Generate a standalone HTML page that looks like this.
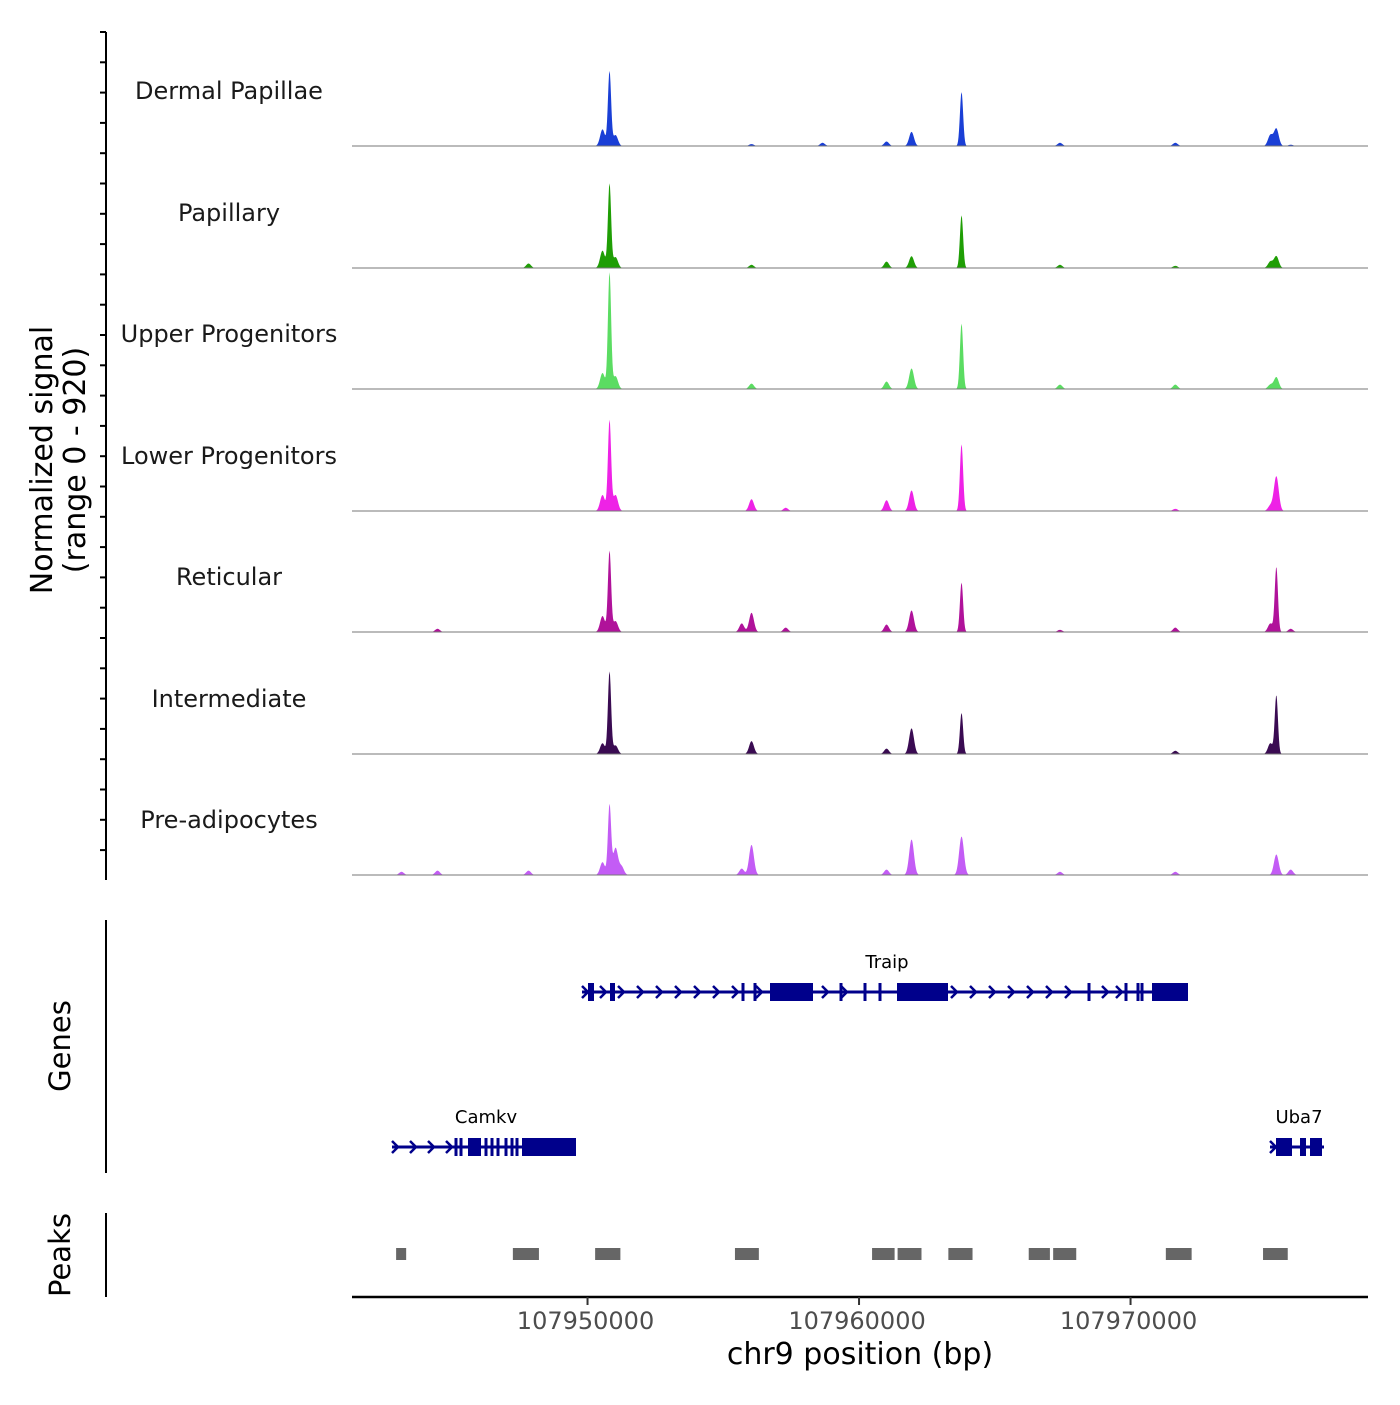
<!DOCTYPE html>
<html><head><meta charset="utf-8"><style>
body{margin:0;background:#fff;}
svg text{font-family:"DejaVu Sans","Liberation Sans",sans-serif;}
</style></head><body>
<svg id="chart" width="1400" height="1400" xmlns="http://www.w3.org/2000/svg">
<rect width="1400" height="1400" fill="#fff"/>
<g id="tracks"></g>
<g id="genes"></g>
<g id="peaks"></g>
<g id="axes"></g>
<text transform="translate(52,460) rotate(-90)" font-size="30" text-anchor="middle" fill="#000">Normalized signal</text>
<text transform="translate(85,460) rotate(-90)" font-size="30" text-anchor="middle" fill="#000">(range 0 - 920)</text>
<text transform="translate(70,1046) rotate(-90)" font-size="29" text-anchor="middle" fill="#000">Genes</text>
<text transform="translate(70,1255) rotate(-90)" font-size="29" text-anchor="middle" fill="#000">Peaks</text>
<text x="860" y="1364" font-size="30" text-anchor="middle" fill="#000">chr9 position (bp)</text>
</svg>
<script>
const trackNames=["Dermal Papillae","Papillary","Upper Progenitors","Lower Progenitors","Reticular","Intermediate","Pre-adipocytes"];
const trackColors=["#1a3fd6","#1f9e05","#5bdc62","#ee22e6","#b0129a","#3a0b52","#c35cf5"];
const peakPos=[107943149,107944475,107947827,107950552,107950810,107951031,107951250,107955680,107956040,107957300,107958656,107961013,107961934,107963775,107967400,107971650,107975150,107975370,107975900];
const dermalVals=[1,0,0,130,580,85,0,0,15,0,25,35,110,420,25,25,85,135,10];
const papillaryVals=[0,0,35,135,655,85,0,0,25,0,0,50,92,410,25,17,50,92,0];
const upperVals=[0,0,0,125,905,100,0,0,42,0,0,58,160,510,34,34,34,92,0];
const lowerVals=[0,0,0,125,705,125,0,0,92,25,0,84,160,520,0,17,42,270,0];
const reticularVals=[0,25,0,125,630,85,0,67,150,34,0,58,168,385,17,34,67,505,25];
const intermediateVals=[0,0,0,84,640,67,0,0,100,0,0,42,200,320,0,25,84,455,0];
const preadipoVals=[25,34,34,100,545,210,67,50,235,0,0,42,277,300,25,25,0,160,42];
const trackVals=[dermalVals,papillaryVals,upperVals,lowerVals,reticularVals,intermediateVals,preadipoVals];
const xTicks=[107950000,107960000,107970000];
const peakStarts=[107942950,107947250,107950280,107955430,107960480,107961420,107963290,107966250,107967150,107971300,107974880];
const peakEnds=[107943320,107948210,107951210,107956310,107961310,107962300,107964180,107967030,107968000,107972250,107975790];
const SVGNS="http://www.w3.org/2000/svg";
const X0=352,X1=1368,BP0=107941325,BP1=107978746;
const xs=bp=>X0+(bp-BP0)/(BP1-BP0)*(X1-X0);
const baselines=[146,268,389,511,632,754,875];
const ys=(v,b)=>b-v/920*118;
function mk(tag,attrs,parent){const e=document.createElementNS(SVGNS,tag);for(const k in attrs)e.setAttribute(k,attrs[k]);parent.appendChild(e);return e;}
const tracks=document.getElementById('tracks');
trackNames.forEach((n,i)=>{
  const b=baselines[i];const vals=trackVals[i];
  let d=`M${X0},${b}`;
  for(let x=X0;x<=X1;x+=0.5){
    let v=0;
    for(let k=0;k<peakPos.length;k++){const dx=(x-xs(peakPos[k]))/(vals[k]>300?1.6:2.4);v+=vals[k]*Math.exp(-dx*dx/2);}
    d+=`L${x},${ys(v,b).toFixed(2)}`;
  }
  d+=`L${X1},${b}Z`;
  const p=mk('path',{d:d,fill:trackColors[i]},tracks);
  
  
  const l=mk('line',{x1:X0,x2:X1,y1:b,y2:b,stroke:'#777','stroke-width':1},tracks);
  
  
  const t=mk('text',{x:229,y:b-47,'font-size':24,'text-anchor':'middle',fill:'#1a1a1a'},tracks);
  t.textContent=n;
  
  
});
const axes=document.getElementById('axes');
mk('line',{x1:106,x2:106,y1:32,y2:880,stroke:'#000','stroke-width':2},axes);
for(let y=32;y<=880;y+=30.3){mk('line',{x1:100,x2:106,y1:y,y2:y,stroke:'#000','stroke-width':2},axes);}
mk('line',{x1:106,x2:106,y1:920,y2:1173,stroke:'#000','stroke-width':2},axes);
mk('line',{x1:106,x2:106,y1:1213,y2:1297,stroke:'#000','stroke-width':2},axes);
mk('line',{x1:X0,x2:X1,y1:1297,y2:1297,stroke:'#000','stroke-width':2.5},axes);
xTicks.forEach(t=>{const x=xs(t);
  mk('line',{x1:x,x2:x,y1:1297,y2:1305,stroke:'#333','stroke-width':2},axes);
  const tx=mk('text',{x:x-2,y:1329,'font-size':24,'text-anchor':'middle',fill:'#4d4d4d'},axes);tx.textContent=t;
  
  
});
const pk=document.getElementById('peaks');
peakStarts.forEach((s,i)=>{const r=mk('rect',{x:xs(s),y:1248,width:xs(peakEnds[i])-xs(s),height:12,fill:'#666'},pk);
  
  });
const g=document.getElementById('genes');
const C='#00008b';
function gene(name,x1,x2,y,blocks,thin,arrows,lx){
  mk('line',{x1:x1,x2:x2,y1:y,y2:y,stroke:C,'stroke-width':3},g);
  blocks.forEach(b=>mk('rect',{x:b[0],y:y-9,width:b[1]-b[0],height:18,fill:C},g));
  thin.forEach(x=>mk('rect',{x:x-1.5,y:y-9,width:3,height:18,fill:C},g));
  arrows.forEach(x=>mk('path',{d:`M${x-4},${y-6}L${x+2},${y}L${x-4},${y+6}`,stroke:C,'stroke-width':2.5,fill:'none'},g));
  const t=mk('text',{x:lx,y:y-24,'font-size':18,'text-anchor':'middle',fill:'#000'},g);t.textContent=name;
  
  
}
gene('Traip',582,1188,992,[[770,813],[897,948],[1152,1188],[588,594],[610,615]],[743,755,841,865,880,1089,1126,1142,1138],[586,604,622,641,660,679,698,717,736,760,826,845,955,974,993,1012,1031,1050,1069,1106,1120],887);
gene('Camkv',392,576,1147,[[522,576],[468,481]],[456,461,486,492,498,506,512,517],[396,414,432,450],486);
gene('Uba7',1270,1324,1147,[[1276,1292],[1300,1306],[1310,1322]],[],[1274],1299);
</script>
</body></html>
